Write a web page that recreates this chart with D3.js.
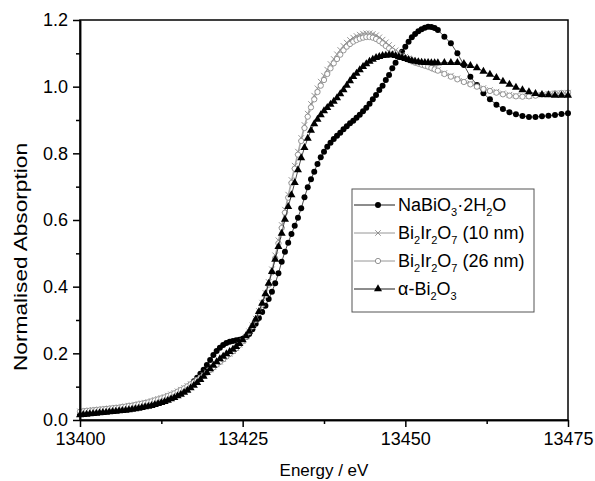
<!DOCTYPE html>
<html>
<head>
<meta charset="utf-8">
<script src="https://cdn.jsdelivr.net/npm/d3@7"></script>
<style>
  body { margin: 0; background: #fff; }
  svg text { font-family: "Liberation Sans", Arial, sans-serif; fill: #000; }
</style>
</head>
<body>
<div id="chart"></div>
<script>
// XANES Bi L3-edge data
const energy = [
  13400, 13400.5, 13401, 13401.5, 13402, 13402.5, 13403, 13403.5, 13404, 13404.5,
  13405, 13405.5, 13406, 13406.5, 13407, 13407.5, 13408, 13408.5, 13409, 13409.5,
  13410, 13410.5, 13411, 13411.5, 13412, 13412.5, 13413, 13413.5, 13414, 13414.5,
  13415, 13415.5, 13416, 13416.5, 13417, 13417.5, 13418, 13418.5, 13419, 13419.5,
  13420, 13420.5, 13421, 13421.5, 13422, 13422.5, 13423, 13423.5, 13424, 13424.5,
  13425, 13425.5, 13426, 13426.5, 13427, 13427.5, 13428, 13428.5, 13429, 13429.5,
  13430, 13430.5, 13431, 13431.5, 13432, 13432.5, 13433, 13433.5, 13434, 13434.5,
  13435, 13435.5, 13436, 13436.5, 13437, 13437.5, 13438, 13438.5, 13439, 13439.5,
  13440, 13440.5, 13441, 13441.5, 13442, 13442.5, 13443, 13443.5, 13444, 13444.5,
  13445, 13445.5, 13446, 13446.5, 13447, 13447.5, 13448, 13448.5, 13449, 13449.5,
  13450, 13450.5, 13451, 13451.5, 13452, 13452.5, 13453, 13453.5, 13454, 13454.5,
  13455,
  13456, 13457, 13458, 13459, 13460, 13461, 13462, 13463, 13464, 13465,
  13466, 13467, 13468, 13469, 13470, 13471, 13472, 13473, 13474, 13475
];

const naBiO3 = [
  0.018, 0.019, 0.020, 0.021, 0.022, 0.023, 0.024, 0.025, 0.026, 0.027,
  0.028, 0.029, 0.030, 0.031, 0.032, 0.033, 0.035, 0.036, 0.038, 0.040,
  0.042, 0.044, 0.046, 0.049, 0.052, 0.055, 0.058, 0.062, 0.066, 0.071,
  0.076, 0.082, 0.089, 0.097, 0.106, 0.116, 0.127, 0.139, 0.151, 0.165,
  0.180, 0.195, 0.207, 0.217, 0.225, 0.231, 0.235, 0.237, 0.239, 0.241,
  0.244, 0.249, 0.258, 0.272, 0.289, 0.306, 0.324, 0.343, 0.363, 0.385,
  0.410, 0.440, 0.475, 0.505, 0.532, 0.558, 0.583, 0.607, 0.635, 0.668,
  0.698, 0.722, 0.745, 0.768, 0.788, 0.805, 0.820, 0.832, 0.843, 0.853,
  0.862, 0.872, 0.881, 0.890, 0.898, 0.907, 0.916, 0.926, 0.937, 0.949,
  0.962, 0.975, 0.990, 1.003, 1.020, 1.035, 1.055, 1.072, 1.090, 1.105,
  1.120, 1.135, 1.148, 1.158, 1.166, 1.172, 1.177, 1.180, 1.179, 1.176,
  1.170,
  1.150, 1.130, 1.100, 1.065, 1.030, 1.005, 0.980, 0.962, 0.946, 0.933,
  0.923, 0.917, 0.912, 0.909, 0.909, 0.911, 0.913, 0.915, 0.918, 0.920
];

const bi2Ir2O7_10nm = [
  0.026, 0.027, 0.028, 0.029, 0.030, 0.031, 0.032, 0.033, 0.034, 0.035,
  0.036, 0.037, 0.038, 0.040, 0.041, 0.043, 0.044, 0.046, 0.048, 0.050,
  0.052, 0.054, 0.057, 0.060, 0.063, 0.066, 0.069, 0.073, 0.077, 0.081,
  0.086, 0.091, 0.096, 0.102, 0.108, 0.114, 0.121, 0.128, 0.135, 0.143,
  0.151, 0.159, 0.167, 0.175, 0.183, 0.191, 0.199, 0.207, 0.216, 0.226,
  0.237, 0.250, 0.266, 0.284, 0.304, 0.327, 0.352, 0.381, 0.414, 0.452,
  0.494, 0.539, 0.585, 0.631, 0.676, 0.720, 0.763, 0.805, 0.846, 0.885,
  0.919, 0.948, 0.973, 0.995, 1.015, 1.033, 1.051, 1.068, 1.083, 1.097,
  1.110, 1.122, 1.132, 1.140, 1.147, 1.152, 1.156, 1.159, 1.160, 1.160,
  1.158, 1.154, 1.148, 1.141, 1.133, 1.125, 1.117, 1.109, 1.102, 1.096,
  1.090, 1.085, 1.080, 1.076, 1.072, 1.068, 1.065, 1.062, 1.058, 1.054,
  1.050,
  1.041, 1.033, 1.025, 1.017, 1.010, 1.003, 0.996, 0.990, 0.985, 0.980,
  0.976, 0.973, 0.972, 0.972, 0.974, 0.976, 0.978, 0.980, 0.981, 0.982
];

const bi2Ir2O7_26nm = [
  0.025, 0.026, 0.027, 0.028, 0.029, 0.030, 0.031, 0.032, 0.033, 0.034,
  0.035, 0.036, 0.037, 0.039, 0.040, 0.042, 0.043, 0.045, 0.047, 0.049,
  0.051, 0.053, 0.056, 0.059, 0.062, 0.065, 0.068, 0.072, 0.076, 0.080,
  0.085, 0.090, 0.095, 0.101, 0.107, 0.113, 0.120, 0.127, 0.134, 0.142,
  0.150, 0.158, 0.166, 0.174, 0.182, 0.190, 0.198, 0.206, 0.215, 0.225,
  0.236, 0.249, 0.264, 0.281, 0.300, 0.322, 0.346, 0.374, 0.406, 0.443,
  0.485, 0.530, 0.576, 0.622, 0.667, 0.711, 0.754, 0.796, 0.837, 0.876,
  0.910, 0.938, 0.962, 0.984, 1.003, 1.020, 1.038, 1.055, 1.070, 1.083,
  1.096, 1.109, 1.120, 1.128, 1.135, 1.140, 1.144, 1.147, 1.149, 1.149,
  1.147, 1.143, 1.137, 1.130, 1.122, 1.115, 1.108, 1.101, 1.095, 1.090,
  1.085, 1.080, 1.076, 1.072, 1.069, 1.066, 1.063, 1.060, 1.056, 1.052,
  1.048,
  1.038, 1.030, 1.022, 1.014, 1.007, 1.000, 0.993, 0.987, 0.982, 0.977,
  0.973, 0.971, 0.970, 0.971, 0.973, 0.976, 0.978, 0.980, 0.981, 0.982
];

const alphaBi2O3 = [
  0.015, 0.016, 0.017, 0.018, 0.019, 0.020, 0.021, 0.022, 0.023, 0.024,
  0.025, 0.026, 0.027, 0.028, 0.029, 0.030, 0.032, 0.033, 0.035, 0.037,
  0.039, 0.041, 0.043, 0.046, 0.049, 0.052, 0.055, 0.059, 0.063, 0.067,
  0.072, 0.077, 0.083, 0.089, 0.096, 0.104, 0.112, 0.121, 0.131, 0.142,
  0.153, 0.164, 0.174, 0.183, 0.191, 0.198, 0.205, 0.212, 0.220, 0.229,
  0.240, 0.252, 0.266, 0.283, 0.302, 0.325, 0.350, 0.378, 0.410, 0.445,
  0.482, 0.520, 0.560, 0.602, 0.640, 0.675, 0.712, 0.750, 0.786, 0.817,
  0.845, 0.869, 0.888, 0.902, 0.915, 0.927, 0.937, 0.947, 0.956, 0.966,
  0.978, 0.990, 1.004, 1.017, 1.030, 1.040, 1.050, 1.060, 1.068, 1.076,
  1.082, 1.087, 1.090, 1.093, 1.094, 1.095, 1.095, 1.093, 1.090, 1.087,
  1.084, 1.081, 1.078, 1.076, 1.074, 1.073, 1.072, 1.072, 1.071, 1.071,
  1.071,
  1.072, 1.072, 1.072, 1.069, 1.063, 1.056, 1.046, 1.037, 1.027, 1.016,
  1.007, 0.998, 0.990, 0.984, 0.979, 0.976, 0.975, 0.974, 0.974, 0.974
];

const xMajor = [13400, 13425, 13450, 13475];
const xMinor = [13412.5, 13437.5, 13462.5];
const yMajor = [0, 0.2, 0.4, 0.6, 0.8, 1.0, 1.2];
const yMinor = [0.1, 0.3, 0.5, 0.7, 0.9, 1.1];

const grey = '#8a8a8a';
// label parts: [text, isSubscript]
const series = [
  { name: 'NaBiO3', values: naBiO3, symbol: d3.symbolCircle, size: 28, fill: '#000', stroke: 'none', line: '#000',
    label: [['NaBiO', 0], ['3', 1], ['\u00b72H', 0], ['2', 1], ['O', 0]] },
  { name: '10nm', values: bi2Ir2O7_10nm, symbol: d3.symbolTimes, size: 22, fill: 'none', stroke: grey, line: grey,
    label: [['Bi', 0], ['2', 1], ['Ir', 0], ['2', 1], ['O', 0], ['7', 1], [' (10 nm)', 0]] },
  { name: '26nm', values: bi2Ir2O7_26nm, symbol: d3.symbolCircle, size: 22, fill: '#fff', stroke: grey, line: grey,
    label: [['Bi', 0], ['2', 1], ['Ir', 0], ['2', 1], ['O', 0], ['7', 1], [' (26 nm)', 0]] },
  { name: 'alpha', values: alphaBi2O3, symbol: d3.symbolTriangle, size: 28, fill: '#000', stroke: 'none', line: '#000',
    label: [['\u03b1-Bi', 0], ['2', 1], ['O', 0], ['3', 1]] }
];

const width = 595, height = 481;
const margin = { top: 20, right: 27, bottom: 61, left: 80 };

const svg = d3.select('#chart').append('svg')
    .attr('width', width)
    .attr('height', height);

const x = d3.scaleLinear().domain([13400, 13475]).range([margin.left, width - margin.right]);
const y = d3.scaleLinear().domain([0, 1.2]).range([height - margin.bottom, margin.top]);

// series: thin connecting line then markers
const line = d3.line().x((d, i) => x(energy[i])).y(d => y(d));
series.forEach(function(s) {
    const grp = svg.append('g').attr('class', 'series-' + s.name);
    grp.append('path')
        .attr('d', line(s.values))
        .attr('fill', 'none')
        .attr('stroke', s.line)
        .attr('stroke-width', 0.7);
    grp.selectAll('path.pt')
        .data(s.values)
        .enter()
        .append('path')
        .attr('class', 'pt')
        .attr('transform', (d, i) => 'translate(' + x(energy[i]) + ',' + y(d) + ')')
        .attr('d', d3.symbol().type(s.symbol).size(s.size))
        .attr('fill', s.fill)
        .attr('stroke', s.stroke)
        .attr('stroke-width', 0.9);
});

// frame
svg.append('rect')
    .attr('x', margin.left).attr('y', margin.top)
    .attr('width', width - margin.left - margin.right)
    .attr('height', height - margin.top - margin.bottom)
    .attr('fill', 'none')
    .attr('stroke', '#000')
    .attr('stroke-width', 1.5);

// axes
svg.append('g')
    .attr('transform', 'translate(0,' + (height - margin.bottom) + ')')
    .call(d3.axisBottom(x).tickValues(xMajor).tickFormat(d3.format('d')).tickSize(7).tickSizeOuter(0).tickPadding(5));
svg.append('g')
    .attr('transform', 'translate(0,' + (height - margin.bottom) + ')')
    .call(d3.axisBottom(x).tickValues(xMinor).tickFormat('').tickSize(4).tickSizeOuter(0));
svg.append('g')
    .attr('transform', 'translate(' + margin.left + ',0)')
    .call(d3.axisLeft(y).tickValues(yMajor).tickFormat(d3.format('.1f')).tickSize(7).tickSizeOuter(0).tickPadding(5));
svg.append('g')
    .attr('transform', 'translate(' + margin.left + ',0)')
    .call(d3.axisLeft(y).tickValues(yMinor).tickFormat('').tickSize(4).tickSizeOuter(0));

svg.selectAll('.domain').attr('stroke', '#000').attr('stroke-width', 1.5);
svg.selectAll('.tick line').attr('stroke', '#000').attr('stroke-width', 1.5);
svg.selectAll('.tick text')
    .attr('font-family', '"Liberation Sans", Arial, sans-serif')
    .attr('font-size', 18)
    .attr('fill', '#000');

// axis titles
svg.append('text')
    .attr('x', (margin.left + width - margin.right) / 2)
    .attr('y', 476)
    .attr('text-anchor', 'middle')
    .attr('font-size', 17)
    .text('Energy / eV');

svg.append('text')
    .attr('transform', 'translate(27,257) rotate(-90)')
    .attr('text-anchor', 'middle')
    .attr('font-size', 18)
    .attr('textLength', 228)
    .attr('lengthAdjust', 'spacingAndGlyphs')
    .text('Normalised Absorption');

// legend
const lg = svg.append('g').attr('transform', 'translate(352,189)');
lg.append('rect')
    .attr('width', 182).attr('height', 123)
    .attr('fill', '#fff')
    .attr('stroke', '#555')
    .attr('stroke-width', 1);

series.forEach(function(s, i) {
    const cy = 16 + i * 28;
    lg.append('line')
        .attr('x1', 2).attr('x2', 43)
        .attr('y1', cy).attr('y2', cy)
        .attr('stroke', s.line)
        .attr('stroke-width', 0.9);
    lg.append('path')
        .attr('transform', 'translate(26,' + cy + ')')
        .attr('d', d3.symbol().type(s.symbol).size(s.size))
        .attr('fill', s.fill)
        .attr('stroke', s.stroke)
        .attr('stroke-width', 0.9);
    const t = lg.append('text')
        .attr('x', 46)
        .attr('y', cy + 6)
        .attr('font-size', 18);
    let low = false;
    s.label.forEach(function(part) {
        const sub = part[1] === 1;
        const dy = sub ? (low ? 0 : 5) : (low ? -5 : 0);
        t.append('tspan')
            .attr('font-size', sub ? 11 : 18)
            .attr('dy', dy)
            .text(part[0]);
        low = sub;
    });
});
</script>
</body>
</html>
